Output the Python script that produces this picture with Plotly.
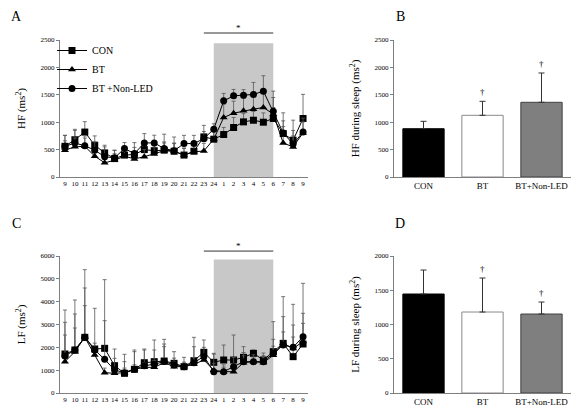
import plotly.graph_objects as go

# ---------------- data ----------------
hour_labels = ["9", "10", "11", "12", "13", "14", "15", "16", "17", "18", "19", "20", "21",
               "22", "23", "24", "1", "2", "3", "4", "5", "6", "7", "8", "9"]

hf_con = [560, 680, 820, 580, 440, 336, 400, 410, 500, 480, 490, 470, 400, 470, 732, 690,
          775, 903, 1006, 1036, 1000, 1068, 793, 671, 1068]
hf_bt = [490, 550, 560, 380, 260, 305, 380, 330, 370, 420, 480, 470, 400, 460, 474, 690,
         1086, 1164, 1207, 1238, 1268, 1150, 620, 549, 805]
hf_btnl = [560, 620, 570, 490, 370, 350, 519, 427, 622, 622, 519, 480, 610, 610, 700, 872,
           1390, 1481, 1494, 1506, 1567, 1201, 805, 600, 823]
hf_con_sd = [200, 190, 190, 170, 140, 150, 130, 130, 150, 140, 150, 150, 120, 130, 210, 200,
             130, 183, 150, 160, 170, 200, 378, 366, 440]
hf_bt_sd = [170, 160, 150, 130, 120, 120, 120, 110, 130, 150, 140, 140, 130, 120, 140, 140,
            240, 220, 230, 260, 300, 300, 300, 200, 200]
hf_btnl_sd = [200, 230, 180, 150, 180, 140, 110, 200, 170, 140, 262, 250, 150, 150, 130, 100,
              135, 117, 100, 220, 281, 366, 220, 250, 250]

lf_con = [1708, 1883, 2438, 1927, 1956, 1197, 862, 1037, 1328, 1372, 1401, 1299, 1153, 1416,
          1782, 1344, 1445, 1445, 1562, 1737, 1445, 1810, 2175, 1591, 2146]
lf_bt = [1372, 1810, 2438, 1665, 891, 862, 891, 1037, 1124, 1124, 1330, 1153, 1153, 1255,
         1445, 1000, 934, 934, 1329, 1372, 1329, 1650, 2175, 1950, 2250]
lf_btnl = [1621, 1883, 2438, 1883, 1474, 1008, 891, 1037, 1197, 1255, 1380, 1226, 1153, 1328,
           1600, 934, 934, 1153, 1372, 1372, 1372, 1737, 2100, 2000, 2467]
lf_con_sd = [1927, 2190, 2964, 1782, 3008, 730, 832, 846, 599, 949, 949, 511, 409, 1022,
             539, 393, 657, 1095, 467, 146, 305, 1314, 2044, 2293, 2657]
lf_bt_sd = [1168, 1037, 1387, 300, 200, 150, 200, 200, 200, 300, 699, 200, 150, 300,
            250, 300, 200, 300, 300, 200, 300, 400, 500, 500, 800]
lf_btnl_sd = [1474, 1577, 2161, 300, 1694, 510, 481, 773, 686, 628, 766, 300, 200, 700,
              400, 770, 300, 400, 400, 300, 200, 613, 1243, 978, 1022]

groups = ["CON", "BT", "BT+Non-LED"]
hf_sleep = [881, 1126, 1363]
hf_sleep_sd = [135, 255, 535]
lf_sleep = [1445, 1182, 1153]
lf_sleep_sd = [350, 497, 175]
sig_marks = ["", "†", "†"]

series_names = ["CON", "BT", "BT +Non-LED"]
night_start, night_end = "24", "6"

# ---------------- styling ----------------
FONT = "Liberation Serif, Times New Roman, serif"
AXC = "#7f7f7f"
symbols = ["square", "triangle-up", "circle"]
bar_fill = ["#000000", "#ffffff", "#7f7f7f"]
bar_line = ["#000000", "#8a8a8a", "#404040"]

xidx = list(range(len(hour_labels)))
i0 = hour_labels.index(night_start)
i1 = i0 + hour_labels[i0:].index(night_end)

fig = go.Figure()

def add_lines(vals, sds, xa, ya, showleg):
    for k in range(3):
        fig.add_trace(go.Scatter(
            x=xidx, y=vals[k], mode="lines+markers", name=series_names[k],
            xaxis=xa, yaxis=ya, showlegend=showleg,
            line=dict(color="black", width=1),
            marker=dict(symbol=symbols[k], size=7, color="black"),
            error_y=dict(type="data", symmetric=False, array=sds[k],
                         arrayminus=[0] * len(sds[k]), color="#555555",
                         thickness=0.8, width=2),
        ))

add_lines([hf_con, hf_bt, hf_btnl], [hf_con_sd, hf_bt_sd, hf_btnl_sd], "x", "y", True)
add_lines([lf_con, lf_bt, lf_btnl], [lf_con_sd, lf_bt_sd, lf_btnl_sd], "x3", "y3", False)

def add_bars(vals, sds, xa, ya):
    fig.add_trace(go.Bar(
        x=groups, y=vals, xaxis=xa, yaxis=ya, showlegend=False, width=0.7,
        marker=dict(color=bar_fill, line=dict(color=bar_line, width=1)),
        error_y=dict(type="data", symmetric=False, array=sds, arrayminus=[0] * 3,
                     color="#333333", thickness=1, width=3),
    ))
    for g, v, s, m in zip(groups, vals, sds, sig_marks):
        if m:
            fig.add_annotation(x=g, y=v + s, xref=xa, yref=ya, text=m, showarrow=False,
                               yanchor="bottom", yshift=2,
                               font=dict(size=9, family=FONT, color="black"))

add_bars(hf_sleep, hf_sleep_sd, "x2", "y2")
add_bars(lf_sleep, lf_sleep_sd, "x4", "y4")

# page is offset by the 8px body margin: work in page pixels, convert here
OFF = 8
W, H = 580 - OFF, 419 - OFF
def dx(a, b):
    return [(a - OFF) / W, (b - OFF) / W]
def dy(top, bot):
    return [1 - (bot - OFF) / H, 1 - (top - OFF) / H]
def px(x):
    return (x - OFF) / W
def py(y):
    return 1 - (y - OFF) / H

tickf = dict(size=7, family=FONT, color="black")
titlef = dict(size=11, family=FONT, color="black")

def yax(dom, rng, dt, title, anchor):
    return dict(domain=dom, range=rng, dtick=dt, anchor=anchor, showgrid=False,
                zeroline=False, showline=True, linecolor=AXC, linewidth=1,
                ticks="outside", ticklen=3, tickcolor=AXC, tickfont=tickf,
                title=dict(text=title, font=titlef, standoff=12))

def xline(dom, anchor):
    return dict(domain=dom, range=[-0.5, len(hour_labels) - 0.5], tickmode="array",
                tickvals=xidx, ticktext=hour_labels, anchor=anchor, showgrid=False,
                zeroline=False, showline=True, linecolor=AXC, linewidth=1, ticks="",
                tickfont=tickf)

def xbar(dom, anchor):
    return dict(domain=dom, range=[-0.5, 2.5], anchor=anchor, showgrid=False,
                zeroline=False, showline=True, linecolor=AXC, linewidth=1, ticks="",
                tickfont=dict(size=9, family=FONT, color="black"))

xl = dx(60, 308)
xr = dx(394, 571)
ytop = dy(40, 177)
ybot = dy(256, 393)

fig.update_layout(
    width=W, height=H, template="none",
    margin=dict(l=0, r=0, t=0, b=0),
    paper_bgcolor="white", plot_bgcolor="white",
    font=dict(family=FONT, color="black"),
    xaxis=xline(xl, "y"),
    yaxis=yax(ytop, [0, 2500], 500, "HF (ms<sup>2</sup>)", "x"),
    xaxis2=xbar(xr, "y2"),
    yaxis2=yax(ytop, [0, 2500], 500, "HF during sleep (ms<sup>2</sup>)", "x2"),
    xaxis3=xline(xl, "y3"),
    yaxis3=yax(ybot, [0, 6000], 1000, "LF (ms<sup>2</sup>)", "x3"),
    xaxis4=xbar(xr, "y4"),
    yaxis4=yax(ybot, [0, 2000], 500, "LF during sleep (ms<sup>2</sup>)", "x4"),
    legend=dict(x=px(52), y=py(36), xanchor="left", yanchor="top",
                bgcolor="rgba(0,0,0,0)", font=dict(size=10, family=FONT, color="black"),
                itemwidth=30, tracegroupgap=0),
    bargap=0.3,
)

# night shading and significance line
for ya, top, ylev in [("y", 2440, 1.051), ("y3", 5850, 1.036)]:
    xa = "x" if ya == "y" else "x3"
    fig.add_shape(type="rect", xref=xa, yref=ya, x0=i0, x1=i1, y0=0, y1=top,
                  fillcolor="#c8c8c8", line=dict(width=0), layer="below")
    fig.add_shape(type="line", xref=xa, yref=ya + " domain", x0=i0 - 1, x1=i1,
                  y0=ylev, y1=ylev, line=dict(color="#333333", width=1))
    fig.add_annotation(x=(i0 - 1 + i1) / 2, y=ylev, xref=xa, yref=ya + " domain",
                       text="*", showarrow=False, yanchor="bottom", yshift=-2,
                       font=dict(size=9, family=FONT, color="black"))

for letter, lx, ly in [("A", 16, 17), ("B", 400, 17), ("C", 16, 223), ("D", 400, 223)]:
    fig.add_annotation(x=px(lx), y=py(ly), xref="paper", yref="paper", text=letter,
                       xanchor="center", yanchor="middle", showarrow=False,
                       font=dict(size=14, family=FONT, color="black"))

fig.write_html("out.html")
